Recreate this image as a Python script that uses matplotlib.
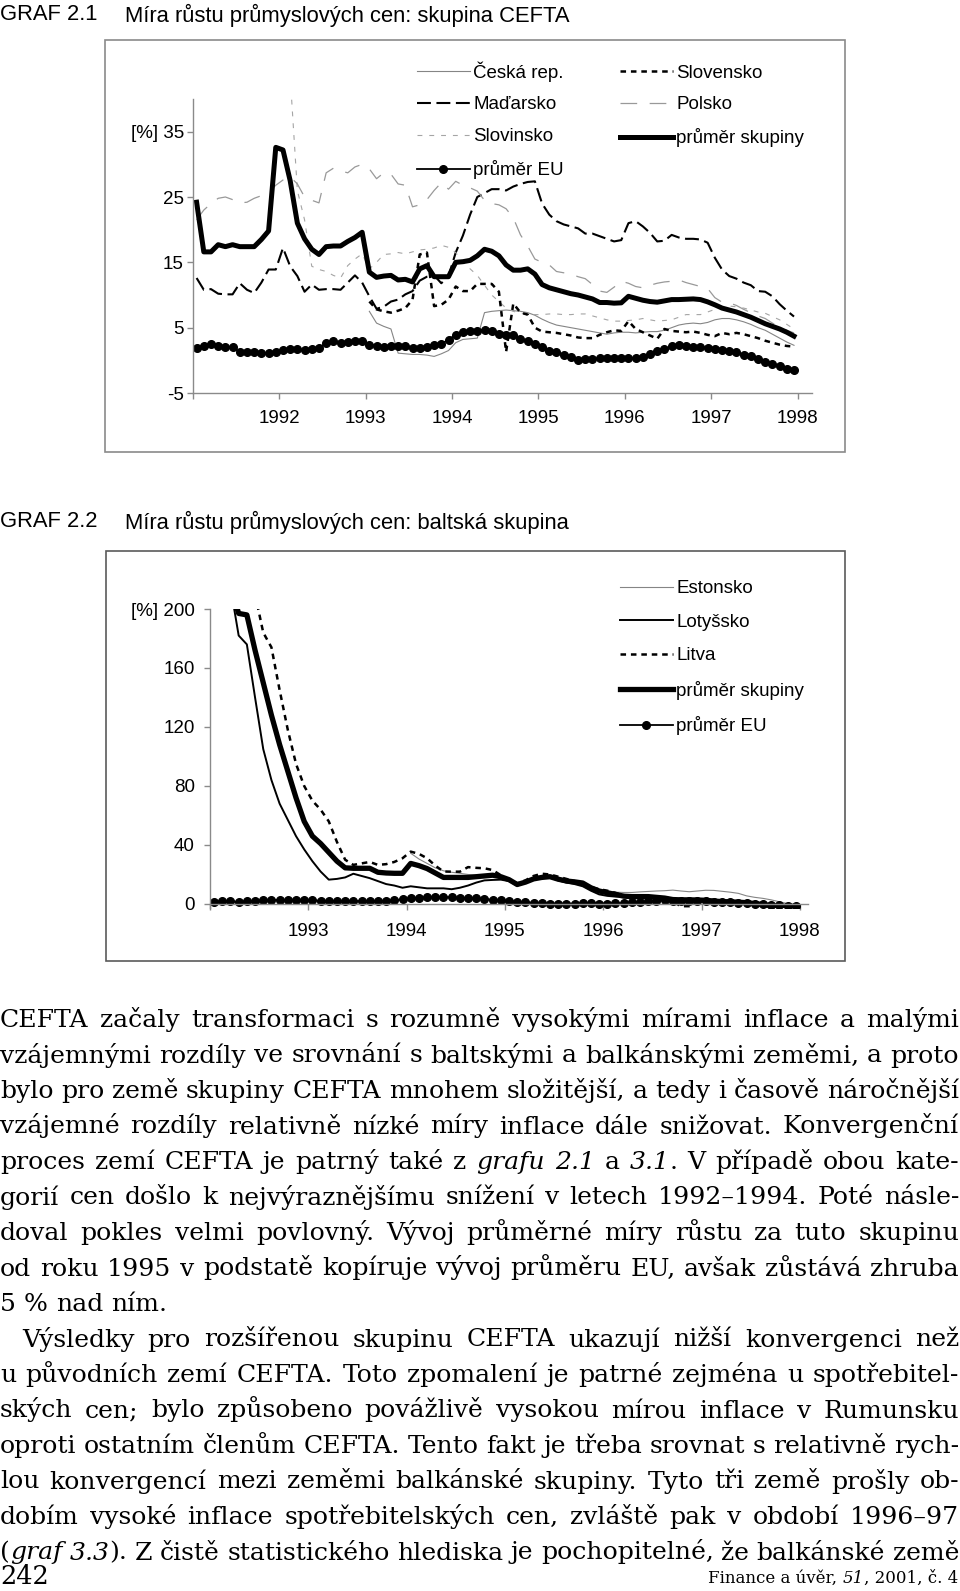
import numpy as np
import matplotlib
matplotlib.use('Agg')
import matplotlib.pyplot as plt
from matplotlib.lines import Line2D
from matplotlib.patches import Rectangle
from matplotlib.font_manager import FontProperties

plt.rcParams['font.family'] = ['Liberation Sans', 'DejaVu Sans']
plt.rcParams['lines.scale_dashes'] = False

W, H = 960, 1591
nan = np.nan

# ---------------- GRAF 2.1 (monthly 1991-1997) ----------------
eu_avg = [1.89, 2.24, 2.55, 2.14, 2.04, 1.99, 1.27, 1.22, 1.22, 1.12, 1.12, 1.22,
          1.63, 1.73, 1.73, 1.53, 1.73, 1.89, 2.65, 2.91, 2.65, 2.81, 2.91, 2.91,
          2.40, 2.24, 2.04, 2.14, 2.14, 2.14, 1.89, 1.89, 2.04, 2.30, 2.50, 3.16,
          3.93, 4.28, 4.44, 4.54, 4.69, 4.44, 4.08, 3.93, 3.83, 3.32, 2.91, 2.55,
          2.04, 1.48, 1.22, 0.87, 0.46, 0.10, 0.20, 0.20, 0.31, 0.41, 0.41, 0.31,
          0.31, 0.36, 0.51, 1.02, 1.38, 1.73, 2.14, 2.40, 2.24, 2.04, 2.04, 1.94,
          1.73, 1.53, 1.38, 1.22, 0.87, 0.61, 0.20, -0.31, -0.51, -0.92, -1.33, -1.43]
cefta_avg = [24.2, 16.6, 16.6, 17.7, 17.4, 17.7, 17.4, 17.4, 17.4, 18.5, 19.8, 32.6,
             32.2, 27.5, 21.0, 18.6, 17.0, 16.2, 17.4, 17.5, 17.5, 18.2, 18.8, 19.6,
             13.5, 12.7, 12.9, 13.0, 12.3, 12.4, 12.0, 14.0, 14.5, 12.8, 12.8, 12.8,
             15.0, 15.1, 15.3, 16.0, 17.0, 16.7, 16.0, 14.6, 13.8, 13.8, 14.0, 13.2,
             11.6, 11.1, 10.8, 10.5, 10.2, 10.0, 9.7, 9.4, 8.85, 8.85, 8.75, 8.8,
             9.8, 9.5, 9.2, 9.0, 8.9, 9.1, 9.3, 9.3, 9.35, 9.4, 9.3, 8.95,
             8.5, 8.0, 7.7, 7.4, 7.0, 6.6, 6.1, 5.6, 5.2, 4.8, 4.3, 3.7]
madarsko = [12.6, 10.8, 10.9, 10.2, 10.1, 10.1, 11.8, 10.8, 10.3, 11.9, 13.9, 13.9,
            17.2, 14.4, 12.9, 10.5, 11.6, 10.8, 10.9, 10.9, 10.8, 11.9, 13.0, 11.9,
            9.8, 7.9, 8.2, 9.0, 9.3, 10.1, 10.6, 12.2, 12.8, 13.0, 11.8, 12.9,
            16.5, 19.1, 22.3, 25.0, 25.6, 26.2, 26.2, 26.0, 26.6, 27.0, 27.3, 27.4,
            24.0, 22.3, 21.3, 20.8, 20.5, 20.2, 19.4, 19.4, 19.0, 18.6, 18.2, 18.4,
            21.0, 21.3, 20.5, 19.5, 18.2, 18.3, 19.2, 18.8, 18.6, 18.6, 18.5, 18.0,
            15.7, 13.9, 12.9, 12.5, 11.9, 11.5, 10.6, 10.5, 9.8, 8.6, 7.6, 6.7]
polsko = [21.5, 23.0, 24.0, 24.8, 25.0, 24.6, 24.1, 24.2, 24.8, 25.2, 25.7, 26.8,
          27.6, 28.1, 27.0, 25.0, 24.5, 24.1, 28.7, 29.4, 29.0, 28.7, 29.6, 30.0,
          29.3, 27.8, 28.7, 28.5, 27.0, 26.8, 23.5, 23.8, 24.6, 26.0, 27.2, 26.2,
          27.4, 26.8, 26.4, 25.9, 24.5, 24.0, 23.8, 23.2, 21.8, 19.2, 17.5, 15.5,
          15.0, 14.6, 13.6, 13.4, 13.2, 12.8, 12.5, 11.6, 10.6, 10.4, 11.2, 12.1,
          11.8, 11.3, 11.1, 11.5, 11.8, 12.0, 12.1, 12.3, 11.9, 11.6, 11.3, 11.0,
          9.6, 8.9, 8.8, 8.4, 7.8, 7.3, 6.8, 6.4, 5.7, 5.1, 4.6, 4.2]
slovinsko = [nan] * 13 + [
             43.5, 26.0, 21.5, 14.4, 13.9, 13.6, 13.0, 12.6, 14.5, 15.5, 16.3,
             14.0, 15.0, 16.2, 16.3, 16.5, 16.3, 16.6, 16.9, 17.0, 17.2, 17.6, 17.3,
             16.5, 15.0, 14.0, 13.0, 11.5, 10.0, 9.0, 8.0, 7.5, 7.2, 7.1, 7.0,
             7.0, 7.1, 7.1, 7.0, 7.0, 7.1, 7.1, 6.8, 6.5, 6.2, 6.0, 6.0,
             6.1, 6.2, 6.4, 6.2, 6.0, 6.1, 6.2, 6.6, 7.0, 7.0, 7.0, 7.4,
             7.8, 8.1, 8.3, 8.2, 8.0, 7.7, 7.4, 7.2, 6.7, 6.2, 5.5, 4.8]
ceska = [nan] * 24 + [
         7.5, 5.7, 5.2, 4.8, 1.1, 1.0, 0.9, 0.9, 0.8, 0.6, 1.0, 1.5,
         2.7, 3.2, 3.3, 3.4, 7.3, 7.5, 7.6, 7.7, 7.6, 7.5, 7.3, 6.9,
         6.3, 5.8, 5.4, 5.2, 5.0, 4.8, 4.6, 4.4, 4.2, 4.0, 4.2, 4.3,
         4.3, 4.2, 4.3, 4.4, 4.4, 4.6, 5.0, 5.4, 5.6, 5.7, 5.6, 5.8,
         6.2, 6.4, 6.4, 6.2, 5.9, 5.5, 5.0, 4.6, 4.0, 3.4, 2.8, 2.3]
slovensko = [nan] * 24 + [
             9.0, 7.8, 7.5, 7.3, 7.6, 8.0, 9.3, 16.2, 16.5, 8.3, 8.5, 9.3,
             11.3, 10.6, 10.6, 11.7, 11.7, 11.7, 10.5, 1.3, 8.7, 7.3, 7.0, 5.0,
             4.4, 4.3, 4.2, 4.0, 3.8, 3.5, 3.4, 3.4, 3.9, 4.3, 4.6, 4.5,
             6.0, 4.8, 4.3, 3.8, 3.3, 4.8, 4.5, 4.4, 4.3, 4.4, 4.2, 3.9,
             3.7, 4.2, 4.0, 4.2, 4.0, 3.7, 3.4, 3.0, 2.7, 2.4, 2.2, 2.1]
years_1 = ['', '1992', '1993', '1994', '1995', '1996', '1997', '1998']
yticks_1 = [-5, 5, 15, 25, 35]

# ---------------- GRAF 2.2 (monthly 1992-1997) ----------------
estonsko = [nan] * 24 + [
            34.4, 30.5, 27.5, 24.5, 22.5, 21.5, 20.8, 20.0, 19.5, 19.0, 18.8, 18.0,
            16.0, 13.5, 15.5, 17.0, 17.5, 18.0, 16.5, 15.0, 14.0, 13.0, 11.0, 9.5,
            8.5, 8.0, 7.8, 7.8, 8.2, 8.5, 8.8, 9.0, 9.4, 8.8, 8.3, 8.8,
            9.3, 9.2, 8.6, 8.0, 7.2, 5.5, 4.5, 3.8, 2.8, 1.5, 0.3, -0.7]
lotyssko = [nan, nan, 215, 182, 176, 140, 105, 84, 68, 57, 46, 37,
            29, 22, 16.5, 17, 18, 20.5, 19, 17.5, 15.5, 13.5, 12.5, 11,
            12, 11.3, 10.6, 10.6, 10.6, 10, 11, 12.5, 14.5, 16, 16.3, 16.5,
            15.5, 12.5, 14.5, 16.5, 17.5, 18.0, 16.0, 14.5, 13.5, 12.0, 9.0, 6.5,
            5.5, 5.0, 5.0, 5.0, 5.0, 5.0, 4.5, 4.0, 3.0, 2.5, 2.5, 2.5,
            2.8, 2.5, 2.0, 1.8, 1.5, 1.2, 0.8, 0.3, -0.5, -1.2, -1.5, -1.5]
litva = [nan, nan, nan, nan, nan, 210, 184, 174, 145, 118, 95, 80,
         70, 64, 56, 42, 30, 26.5, 27.5, 28.5, 26.5, 27, 28.5, 31,
         35.5, 34, 31, 26, 22, 21.9, 21.9, 25, 24.5, 24.2, 23, 19.5,
         16.5, 14.0, 16.0, 19.0, 20.5, 20.0, 18.5, 17.0, 15.5, 14.0, 11.5, 10.0,
         9.0, 7.5, 6.0, 5.5, 5.0, 4.5, 3.5, 2.8, 1.5, -1.5, -1.5, 1.5,
         2.5, 2.5, 2.0, 1.5, 1.3, 1.0, 0.5, 0.0, -1.0, -1.5, -1.5, -1.5]
balt_avg = [nan, nan, 215, 197, 196, 172, 150, 128, 108, 90, 72, 56,
            46, 41, 35, 29, 24.5, 24.2, 24.2, 24.2, 21.5, 21.0, 20.8, 20.8,
            27.5, 26.0, 24.0, 21.0, 18.0, 18.0, 18.0, 18.0, 18.5, 19.0, 19.5, 18.5,
            16.5, 13.2, 14.8, 17.0, 18.0, 18.5, 16.8, 15.6, 15.0, 14.2, 11.0, 8.8,
            7.6, 6.5, 5.3, 5.0, 5.0, 5.0, 4.5, 4.0, 3.0, 2.8, 2.8, 2.7,
            2.5, 2.0, 1.6, 1.5, 1.2, 0.9, 0.3, -0.4, -1.2, -1.6, -1.6, -1.6]
eu_avg_2 = eu_avg[12:]
years_2 = ['', '1993', '1994', '1995', '1996', '1997', '1998']
yticks_2 = [0, 40, 80, 120, 160, 200]

text_lines = [
    "CEFTA začaly transformaci s rozumně vysokými mírami inflace a malými",
    "vzájemnými rozdíly ve srovnání s baltskými a balkánskými zeměmi, a proto",
    "bylo pro země skupiny CEFTA mnohem složitější, a tedy i časově náročnější",
    "vzájemné rozdíly relativně nízké míry inflace dále snižovat. Konvergenční",
    "proces zemí CEFTA je patrný také z *grafu 2.1* a *3.1*. V případě obou kate-",
    "gorií cen došlo k nejvýraznějšímu snížení v letech 1992–1994. Poté násle-",
    "doval pokles velmi povlovný. Vývoj průměrné míry růstu za tuto skupinu",
    "od roku 1995 v podstatě kopíruje vývoj průměru EU, avšak zůstává zhruba",
    "5 % nad ním.",
    "Výsledky pro rozšířenou skupinu CEFTA ukazují nižší konvergenci než",
    "u původních zemí CEFTA. Toto zpomalení je patrné zejména u spotřebitel-",
    "ských cen; bylo způsobeno povážlivě vysokou mírou inflace v Rumunsku",
    "oproti ostatním členům CEFTA. Tento fakt je třeba srovnat s relativně rych-",
    "lou konvergencí mezi zeměmi balkánské skupiny. Tyto tři země prošly ob-",
    "dobím vysoké inflace spotřebitelských cen, zvláště pak v období 1996–97",
    "(*graf 3.3*). Z čistě statistického hlediska je pochopitelné, že balkánské země",
]

fig = plt.figure(figsize=(W / 100, H / 100), dpi=100)


def axes_px(left, top, right, bottom):
    return fig.add_axes([left / W, 1 - bottom / H, (right - left) / W, (bottom - top) / H])


def style_axes(ax, xpad, ypad):
    for s in ['top', 'right']:
        ax.spines[s].set_visible(False)
    for s in ['left', 'bottom']:
        ax.spines[s].set_color('#8a8a8a')
        ax.spines[s].set_linewidth(1.0)
    ax.tick_params(axis='both', colors='#8a8a8a', labelcolor='black', labelsize=13.5,
                   length=4, width=1.0, direction='out')
    ax.tick_params(axis='x', pad=xpad)
    ax.tick_params(axis='y', pad=ypad)


grey_thin = '#858585'
grey_light = '#a5a5a5'

# ---------- chart 1 ----------
ax1 = axes_px(193, 99, 812, 393)
x1 = np.arange(len(eu_avg)) + 0.5
ax1.plot(x1, ceska, color=grey_thin, lw=0.8)
ax1.plot(x1, madarsko, color='black', lw=1.5, ls=(0, (10, 4)))
ax1.plot(x1, slovinsko, color=grey_light, lw=0.8, ls=(0, (3.5, 5)))
ax1.plot(x1, polsko, color='#999999', lw=0.9, ls=(0, (12, 9)))
ax1.plot(x1, slovensko, color='black', lw=1.8, ls=(0, (4, 3.5)))
ax1.plot(x1, cefta_avg, color='black', lw=3.6)
ax1.plot(x1, eu_avg, color='black', lw=1.3, marker='o', ms=5.5)
ax1.set_xlim(0, 86)
ax1.set_ylim(-5, 40)
ax1.set_xticks(np.arange(0, 85, 12))
ax1.set_xticklabels(years_1)
ax1.set_yticks(yticks_1)
ax1.set_yticklabels([('[%] ' if v == 35 else '') + str(v) for v in yticks_1])
style_axes(ax1, 8.5, 2.5)

h1 = [Line2D([], [], color=grey_thin, lw=0.8),
      Line2D([], [], color='black', lw=1.5, ls=(0, (10, 4))),
      Line2D([], [], color=grey_light, lw=0.8, ls=(0, (3.5, 5))),
      Line2D([], [], color='black', lw=1.3, marker='o', ms=5.5),
      Line2D([], [], color='black', lw=1.8, ls=(0, (4, 3.5))),
      Line2D([], [], color='#999999', lw=0.9, ls=(0, (12, 9))),
      Line2D([], [], color='black', lw=3.6)]
l1 = ['Česká rep.', 'Maďarsko', 'Slovinsko', 'průměr EU', 'Slovensko', 'Polsko', 'průměr skupiny']
fig.legend(h1, l1, loc='upper left', bbox_to_anchor=(417 / W, 1 - 61 / H), ncol=2,
           frameon=False, fontsize=13.5, handlelength=2.8, handletextpad=0.2,
           labelspacing=0.79, columnspacing=3.0, borderpad=0, borderaxespad=0, numpoints=1)

# ---------- chart 2 ----------
ax2 = axes_px(210, 609, 808, 908.4)
x2 = np.arange(len(balt_avg)) + 0.5
ax2.plot(x2, estonsko, color=grey_thin, lw=0.8)
ax2.plot(x2, lotyssko, color='black', lw=1.4)
ax2.plot(x2, litva, color='black', lw=1.8, ls=(0, (4, 3.5)))
ax2.plot(x2, balt_avg, color='black', lw=3.8)
ax2.plot(x2, eu_avg_2, color='black', lw=1.3, marker='o', ms=5.5)
ax2.set_xlim(0, 73)
ax2.set_ylim(-3, 200)
ax2.spines['bottom'].set_position(('data', 0))
ax2.set_xticks(np.arange(0, 73, 12))
ax2.set_xticklabels(years_2)
ax2.set_yticks(yticks_2)
ax2.set_yticklabels([('[%] ' if v == 200 else '') + str(v) for v in yticks_2])
style_axes(ax2, 9.5, 7)

h2 = [Line2D([], [], color=grey_thin, lw=0.8),
      Line2D([], [], color='black', lw=1.4),
      Line2D([], [], color='black', lw=1.8, ls=(0, (4, 3.5))),
      Line2D([], [], color='black', lw=3.8),
      Line2D([], [], color='black', lw=1.3, marker='o', ms=5.5)]
l2 = ['Estonsko', 'Lotyšsko', 'Litva', 'průměr skupiny', 'průměr EU']
fig.legend(h2, l2, loc='upper left', bbox_to_anchor=(620 / W, 1 - 580 / H), ncol=1,
           frameon=False, fontsize=13.5, handlelength=2.8, handletextpad=0.2,
           labelspacing=0.88, borderpad=0, borderaxespad=0, numpoints=1)

# frames and titles
for (l, t, r, b), ec in [((105, 40, 845, 452), '#8a8a8a'), ((106, 551, 845, 961), '#5a5a5a')]:
    fig.patches.append(Rectangle((l / W, 1 - b / H), (r - l) / W, (b - t) / H,
                                 transform=fig.transFigure, fill=False, ec=ec, lw=1.2))

for y, num, title in [(15, 'GRAF 2.1', 'Míra růstu průmyslových cen: skupina CEFTA'),
                      (522, 'GRAF 2.2', 'Míra růstu průmyslových cen: baltská skupina')]:
    fig.text(0, 1 - y / H, num, fontsize=15.8, va='center', ha='left')
    fig.text(125 / W, 1 - y / H, title, fontsize=15.8, va='center', ha='left')

# ---------- justified body text ----------
renderer = fig.canvas.get_renderer()
serif = 'DejaVu Serif'


def tw(s, size, italic=False):
    fp = FontProperties(family=serif, size=size, style='italic' if italic else 'normal')
    w, _, _ = renderer.get_text_width_height_descent(s, fp, ismath=False)
    return w


def parse(line):
    words, cur, seg, it = [], [], '', False
    for ch in line:
        if ch == '*':
            if seg:
                cur.append((seg, it))
                seg = ''
            it = not it
        elif ch == ' ':
            if seg:
                cur.append((seg, it))
                seg = ''
            if cur:
                words.append(cur)
                cur = []
        else:
            seg += ch
    if seg:
        cur.append((seg, it))
    if cur:
        words.append(cur)
    return words


def word_w(word, size):
    return sum(tw(s, size, it) for s, it in word)


ref_size = 15.0
sp_ref = tw('a a', ref_size) - tw('aa', ref_size)
natural = []
for ln in text_lines:
    ws = parse(ln)
    natural.append(sum(word_w(w, ref_size) for w in ws) + (len(ws) - 1) * sp_ref * 0.85)
body_size = ref_size * 956 / max(natural)

space_w = tw('a a', body_size) - tw('aa', body_size)
base0 = 1027
step = 35.5
for k, ln in enumerate(text_lines):
    ws = parse(ln)
    y = 1 - (base0 + k * step) / H
    x_start = 22 if k == 9 else 0
    widths = [word_w(w, body_size) for w in ws]
    if k == 8:
        gap = space_w
    else:
        gap = (W - 1 - x_start - sum(widths)) / max(len(ws) - 1, 1)
    x = x_start
    for w, ww in zip(ws, widths):
        xx = x
        for s, it in w:
            fig.text(xx / W, y, s, fontsize=body_size, family=serif,
                     style='italic' if it else 'normal', va='baseline', ha='left')
            xx += tw(s, body_size, it)
        x += ww + gap

# footer
fig.text(0, 1 - 1584 / H, '242', fontsize=18.5, family=serif, va='baseline', ha='left')
foot = [('Finance a úvěr, ', False), ('51', True), (', 2001, č. 4', False)]
fs = 12.0
xr = W - 2
for s, it in reversed(foot):
    xr -= tw(s, fs, it)
    fig.text(xr / W, 1 - 1583 / H, s, fontsize=fs, family=serif,
             style='italic' if it else 'normal', va='baseline', ha='left')

fig.savefig('out.png', dpi=100)
